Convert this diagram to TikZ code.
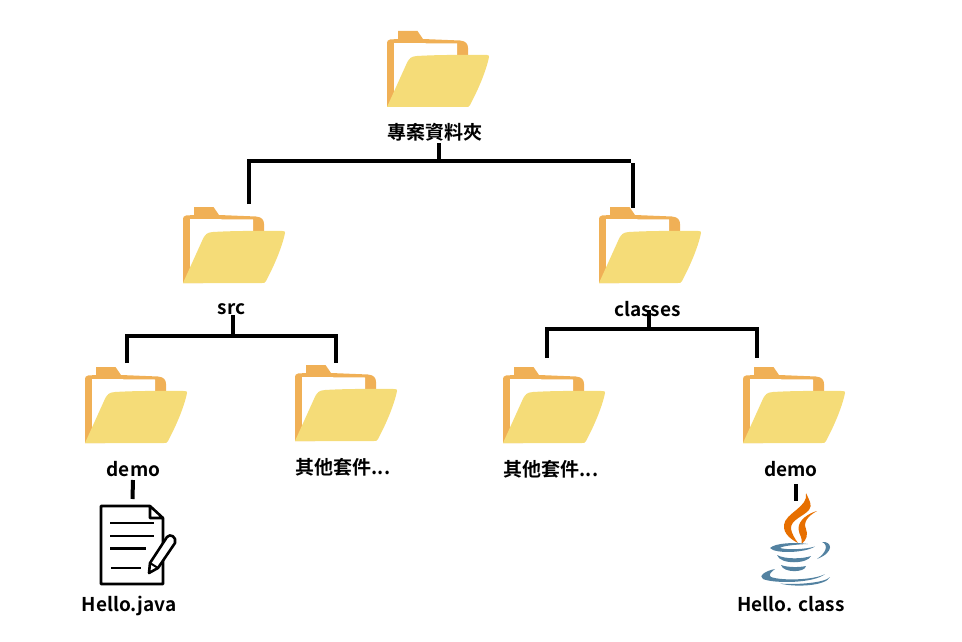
\documentclass[tikz,border=0pt]{standalone}
\usepackage{fontspec}
\usepackage{tikz}
\usetikzlibrary{calc}
\setmainfont{Noto Sans CJK TC Bold}[BoldFont={Noto Sans CJK TC Bold}]
\definecolor{FolderBack}{HTML}{F0B056}
\definecolor{FolderFront}{HTML}{F5DC78}
\definecolor{JavaOrange}{HTML}{E76F00}
\definecolor{JavaBlue}{HTML}{5382A1}
\tikzset{
    folder/.pic={
        % Back and tab
        \fill[FolderBack] (0,77) -- (0,13) .. controls (0,11) and (1,10) .. (3,9.5) -- (11,9) -- (11,1) -- (30.5,1) -- (36,9) -- (73,10.5)
            .. controls (79,11) and (81,14) .. (81,18) -- (81,30) -- (20,77) -- cycle;
        % Sheet
        \fill[white] (7,13) -- (70,13.5) -- (70,30) -- (25,30) -- (7,70) -- cycle;
        % Front
        \fill[FolderFront] (0,77) -- (19,35) .. controls (22,28) and (24,26.5) .. (30,26) .. controls (55,24.5) and (80,25) .. (100,25)
            .. controls (102,25) and (102,26) .. (102,27) .. controls (99,42) and (90,62) .. (83,75) .. controls (82,77) and (81,77) .. (79,77) -- cycle;
    },
    label/.style={inner sep=0pt, font=\fontsize{19}{19}\selectfont},
    branch/.style={line width=4pt, line cap=butt, line join=miter},
}
\begin{document}
\begin{tikzpicture}[x=1pt, y=-1pt]
    \useasboundingbox (0,0) rectangle (962,642);

    % Folders
    \foreach \name/\px/\py in {root/387/30, src/183/206, classes/599/206, demoA/85/366, otherA/295/364, otherB/503/366, demoB/743/366}
        \pic at (\px,\py) {folder};

    % Labels
    \node[label] (rootlabel) at (435,132) {專案資料夾};
    \node[label] (srclabel) at (231.5,309) {src};
    \node[label] (classeslabel) at (647.5,309) {classes};
    \node[label] (demoAlabel) at (133.5,469) {demo};
    \node[label] (otherAlabel) at (343,467) {其他套件...};
    \node[label] (otherBlabel) at (551,469) {其他套件...};
    \node[label] (demoBlabel) at (791,469) {demo};
    \node[label] (hellojava) at (129,606) {Hello.java};
    \node[label] (helloclass) at (791,604) {Hello. class};

    % Branch ends
    \coordinate (rootstem) at (439,143);
    \coordinate (rootbar) at (439,161);
    \coordinate (srcdrop) at (249,204);
    \coordinate (classesbarend) at (631,161);
    \coordinate (classestop) at (633,163);
    \coordinate (classesdrop) at (633,208);
    \coordinate (srcstem) at (233,315);
    \coordinate (srcbar) at (233,335.5);
    \coordinate (demoAdrop) at (126.5,363);
    \coordinate (otherAdrop) at (336,363);
    \coordinate (classesstem) at (649,310);
    \coordinate (classesbar) at (649,329);
    \coordinate (otherBdrop) at (547,358);
    \coordinate (demoBdrop) at (756.5,358);

    % Connectors
    \draw[branch] (rootstem) -- (rootbar);
    \draw[branch] (srcdrop) |- (rootbar) -- (classesbarend);
    \draw[branch] (classestop) -- (classesdrop);
    \draw[branch] (srcstem) -- (srcbar);
    \draw[branch] (demoAdrop) |- (srcbar) -| (otherAdrop);
    \draw[branch] (classesstem) -- (classesbar);
    \draw[branch] (otherBdrop) |- (classesbar) -| (demoBdrop);
    \coordinate (noteTop) at (133,480);
    \coordinate (noteEnd) at (132.5,499);
    \draw[branch] (noteTop) -- (noteEnd);
    \coordinate (cupTop) at (796,484);
    \coordinate (cupEnd) at (796,501);
    \draw[branch] (cupTop) -- (cupEnd);

    % Note sheet
    \draw[line width=2.6pt, line join=round] (150,506) -- (101,506) -- (101,584) -- (163,584) -- (163,518) -- (150,506) -- (150,518) -- (163,518);
    \foreach \ya/\xa/\xb in {523/110/154, 536/110/154, 548.5/110/146, 568/111/141}
        \draw[line width=2.6pt] (\xa,\ya) -- (\xb,\ya);

    % Pencil
    \filldraw[fill=white, line width=2.6pt, line join=round] (150,563) -- (167,537) .. controls (170,533) and (177,537) .. (175,543) -- (158,568) -- (149,573) -- cycle;
    \draw[line width=2pt] (150,563) -- (158,568);

    % Java flames
    \fill[JavaOrange] (806,493) .. controls (809,500) and (813,505) .. (809,510) .. controls (804,516) and (790,520) .. (791,529) .. controls (792,534) and (795,539) .. (798,543)
        .. controls (792,540) and (783,534) .. (784,525) .. controls (785,513) and (809,507) .. (806,493) -- cycle;
    \fill[JavaOrange] (817,511) .. controls (809,513) and (798,520) .. (798.5,529) .. controls (799,535) and (803,538) .. (801.5,544)
        .. controls (807,540) and (808,534) .. (806,529) .. controls (803,522) and (808,516) .. (817,511) -- cycle;

    % Java cup
    \fill[JavaBlue] (770,548) .. controls (775,543) and (795,542) .. (808,544) .. controls (795,544.5) and (782,546) .. (780,548) .. controls (787,550) and (805,549.5) .. (815,546.5) .. controls (805,553) and (775,554) .. (770,548) -- cycle;
    \fill[JavaBlue] (822,542) .. controls (832,541) and (835,552) .. (817,559) .. controls (826,553) and (829,545) .. (822,542) -- cycle;
    \fill[JavaBlue] (777,555) .. controls (785,559.5) and (803,559) .. (811,556) .. controls (808,564) and (780,565) .. (777,555) -- cycle;
    \fill[JavaBlue] (781,565) .. controls (787,567.5) and (800,567.5) .. (806,566) .. controls (805,573) and (783,573) .. (781,565) -- cycle;
    \fill[JavaBlue] (775,569) .. controls (765,571) and (758,576) .. (763,579) .. controls (775,584) and (815,583) .. (825,574) .. controls (815,580) and (782,581) .. (771,577) .. controls (768,575) and (771,572) .. (775,569) -- cycle;
    \fill[JavaBlue] (830,577) .. controls (825,583) and (795,585) .. (780,583.5) .. controls (795,587.5) and (826,586) .. (830,577) -- cycle;
\end{tikzpicture}
\end{document}
